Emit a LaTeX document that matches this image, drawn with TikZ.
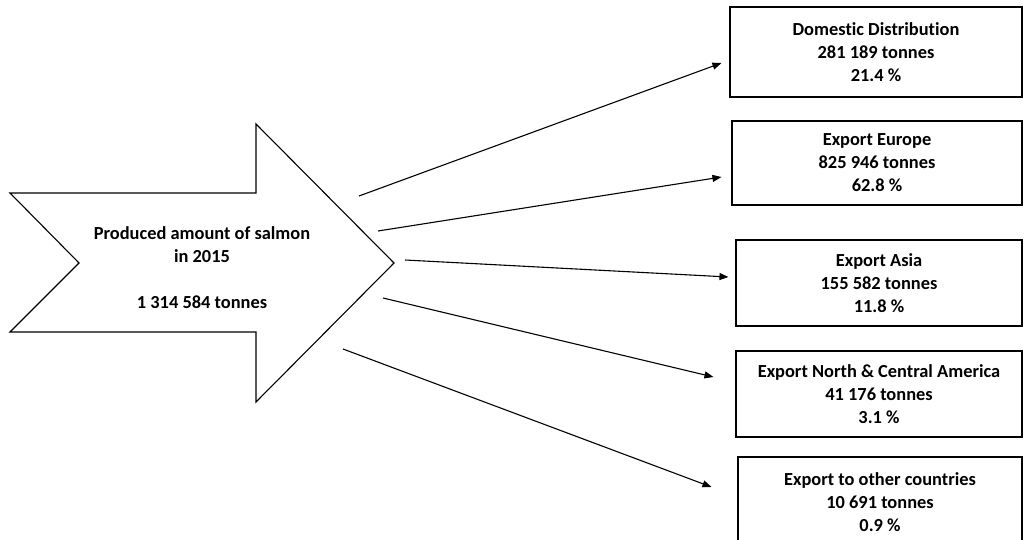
\documentclass[tikz,border=0pt]{standalone}
\usepackage{fontspec}
\setmainfont[Ligatures=NoCommon]{Carlito}
\usetikzlibrary{arrows.meta,calc}
\begin{document}
\begin{tikzpicture}[x=1pt,y=-1pt,
  line width=1.1pt,
  txt/.style={font=\bfseries\fontsize{18.4}{23}\selectfont, align=center, inner sep=0pt},
  destbox/.style={draw, line width=1.1pt, inner sep=0pt, font=\bfseries\fontsize{18.4}{23}\selectfont, align=center},
  flow/.style={-{Triangle[length=9pt,width=7pt]}, line width=1.1pt}]
\useasboundingbox (0,0) rectangle (1024,540);
\fill[white] (0,0) rectangle (1024,540);

% source chevron
\draw[line join=miter] (10,193) -- (256,193) -- (256,124) -- (394,263) -- (256,402)
  -- (256,332) -- (10,332) -- (79,263) -- cycle;
\node[txt] (src) at (202,268) {Produced amount of salmon\\in 2015\\[23pt]1 314 584 tonnes};

% destinations
\node[destbox, minimum width=292pt, minimum height=90pt] (b1) at (876,52)
  {Domestic Distribution\\281 189 tonnes\\21.4 \%};
\node[destbox, minimum width=290pt, minimum height=84pt] (b2) at (877,163)
  {Export Europe\\825 946 tonnes\\62.8 \%};
\node[destbox, minimum width=286pt, minimum height=86pt] (b3) at (879,283)
  {Export Asia\\155 582 tonnes\\11.8 \%};
\node[destbox, minimum width=286pt, minimum height=86pt] (b4) at (879,394)
  {Export North \& Central America\\41 176 tonnes\\3.1 \%};
\node[destbox, minimum width=284pt, minimum height=90pt] (b5) at (880,502)
  {Export to other countries\\10 691 tonnes\\0.9 \%};

% flow starts beside the chevron tip
\coordinate (s1) at (359,196);
\coordinate (s2) at (378,231);
\coordinate (s3) at (405,260);
\coordinate (s4) at (383,298);
\coordinate (s5) at (343,349);

\draw[flow] (s1) -- ($(b1.west)+(-8,11)$);
\draw[flow] (s2) -- ($(b2.west)+(-10,14)$);
\draw[flow] (s3) -- ($(b3.west)+(-7,-6)$);
\draw[flow] (s4) -- ($(b4.west)+(-22,-17)$);
\draw[flow] (s5) -- ($(b5.west)+(-26,-15)$);
\end{tikzpicture}
\end{document}
